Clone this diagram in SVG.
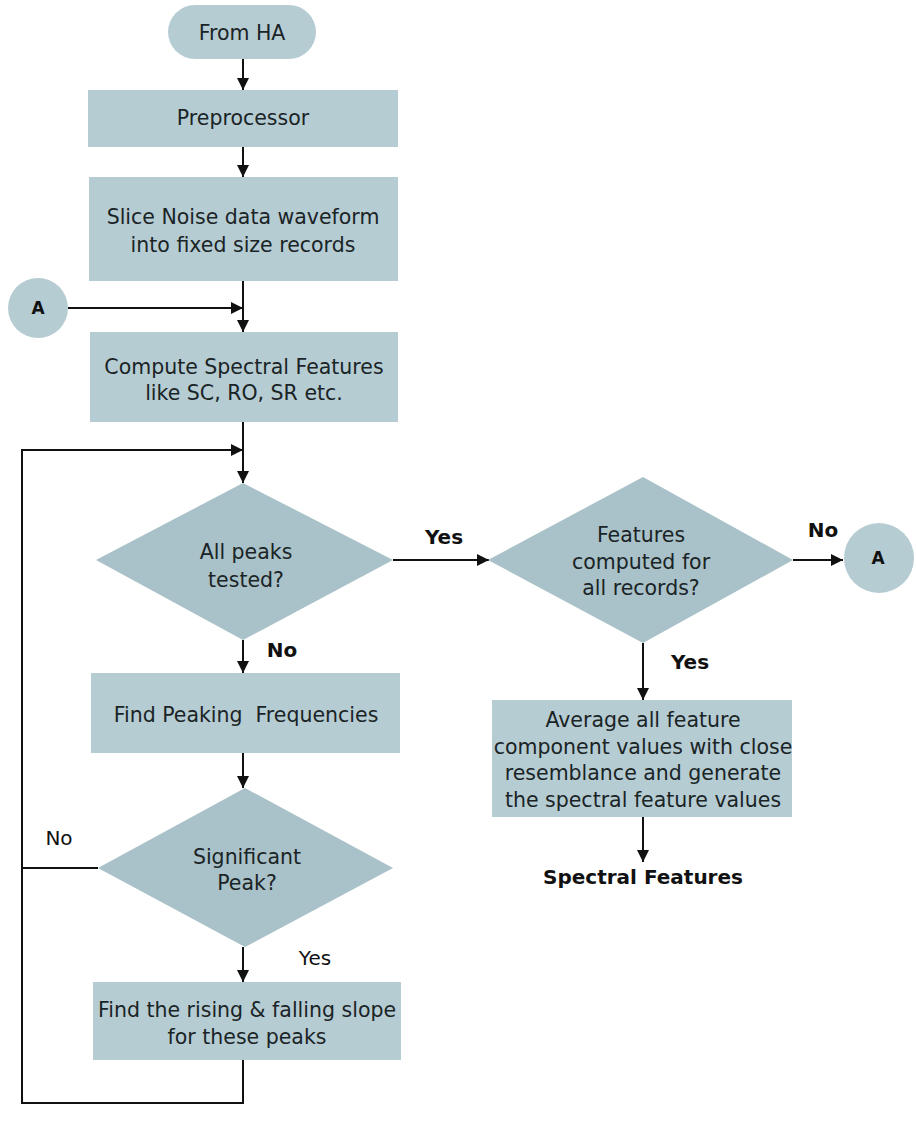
<svg xmlns="http://www.w3.org/2000/svg" width="916" height="1135" viewBox="0 0 916 1135">
  <style>
    .box { fill: #b6ccd3; }
    .dec { fill: #a9c1c8; }
    .t { font-family: "DejaVu Sans", Verdana, sans-serif; font-size: 20.5px; fill: #1a2426; text-anchor: middle; }
    .lb { font-family: "DejaVu Sans", Verdana, sans-serif; font-size: 20px; font-weight: bold; fill: #111; text-anchor: middle; }
    .lr { font-family: "DejaVu Sans", Verdana, sans-serif; font-size: 20px; fill: #111; text-anchor: middle; }
    .ln { fill: none; stroke: #111; stroke-width: 2; }
  </style>
  <defs>
    <marker id="arr" viewBox="0 0 12 12" refX="12" refY="6" markerWidth="12" markerHeight="12" markerUnits="userSpaceOnUse" orient="auto">
      <path d="M0,0 L12,6 L0,12 Z" fill="#111"/>
    </marker>
  </defs>
  <rect width="916" height="1135" fill="#ffffff"/>

  <g id="connectors">
    <line class="ln" x1="243" y1="59" x2="243" y2="90" marker-end="url(#arr)"/>
    <line class="ln" x1="243" y1="147" x2="243" y2="177" marker-end="url(#arr)"/>
    <line class="ln" x1="243" y1="281" x2="243" y2="332" marker-end="url(#arr)"/>
    <line class="ln" x1="68" y1="308" x2="243" y2="308" marker-end="url(#arr)"/>
    <line class="ln" x1="243" y1="422" x2="243" y2="483" marker-end="url(#arr)"/>
    <polyline class="ln" points="243,1060 243,1103 22,1103 22,450 243,450" marker-end="url(#arr)"/>
    <line class="ln" x1="98" y1="868" x2="22" y2="868"/>
    <line class="ln" x1="243" y1="640" x2="243" y2="673" marker-end="url(#arr)"/>
    <line class="ln" x1="243" y1="753" x2="243" y2="788" marker-end="url(#arr)"/>
    <line class="ln" x1="243" y1="947" x2="243" y2="982" marker-end="url(#arr)"/>
    <line class="ln" x1="393" y1="560" x2="489" y2="560" marker-end="url(#arr)"/>
    <line class="ln" x1="793" y1="560" x2="843" y2="560" marker-end="url(#arr)"/>
    <line class="ln" x1="643" y1="643" x2="643" y2="700" marker-end="url(#arr)"/>
    <line class="ln" x1="643" y1="817" x2="643" y2="862" marker-end="url(#arr)"/>
  </g>

  <g id="from-ha">
    <rect class="box" x="168" y="5" width="148" height="54" rx="27"/>
    <text class="t" x="242" y="40">From HA</text>
  </g>
  <g id="preprocessor">
    <rect class="box" x="88" y="90" width="310" height="57"/>
    <text class="t" x="243" y="125">Preprocessor</text>
  </g>
  <g id="slice">
    <rect class="box" x="89" y="177" width="309" height="104"/>
    <text class="t" x="243" y="224">Slice Noise data waveform</text>
    <text class="t" x="243" y="252">into fixed size records</text>
  </g>
  <g id="connector-a-in">
    <circle class="box" cx="38" cy="308" r="30"/>
    <text class="lb" x="38" y="314" style="font-size:17px">A</text>
  </g>
  <g id="compute">
    <rect class="box" x="90" y="332" width="308" height="90"/>
    <text class="t" x="244" y="374">Compute Spectral Features</text>
    <text class="t" x="244" y="400">like SC, RO, SR etc.</text>
  </g>
  <g id="all-peaks">
    <polygon class="dec" points="243,483 393,560 243,640 96,560"/>
    <text class="t" x="246" y="559">All peaks</text>
    <text class="t" x="246" y="587">tested?</text>
  </g>
  <g id="find-peaking">
    <rect class="box" x="91" y="673" width="309" height="80"/>
    <text class="t" x="246" y="722" style="white-space:pre">Find Peaking  Frequencies</text>
  </g>
  <g id="significant">
    <polygon class="dec" points="245,788 393,868 245,947 98,868"/>
    <text class="t" x="247" y="864">Significant</text>
    <text class="t" x="247" y="890">Peak?</text>
  </g>
  <g id="rising-falling">
    <rect class="box" x="93" y="982" width="308" height="78"/>
    <text class="t" x="247" y="1017">Find the rising &amp; falling slope</text>
    <text class="t" x="247" y="1044">for these peaks</text>
  </g>
  <g id="features-computed">
    <polygon class="dec" points="643,477 793,560 643,643 488,560"/>
    <text class="t" x="641" y="542">Features</text>
    <text class="t" x="641" y="569">computed for</text>
    <text class="t" x="641" y="595">all records?</text>
  </g>
  <g id="connector-a-out">
    <circle class="box" cx="879" cy="558" r="35"/>
    <text class="lb" x="878" y="564" style="font-size:17px">A</text>
  </g>
  <g id="average">
    <rect class="box" x="492" y="700" width="300" height="117"/>
    <text class="t" x="643" y="727">Average all feature</text>
    <text class="t" x="643" y="754">component values with close</text>
    <text class="t" x="643" y="780">resemblance and generate</text>
    <text class="t" x="643" y="807">the spectral feature values</text>
  </g>
  <g id="spectral-features">
    <text class="lb" x="643" y="884">Spectral Features</text>
  </g>

  <g id="labels">
    <text class="lb" x="444" y="544">Yes</text>
    <text class="lb" x="282" y="657">No</text>
    <text class="lr" x="59" y="845">No</text>
    <text class="lr" x="315" y="965">Yes</text>
    <text class="lb" x="823" y="537">No</text>
    <text class="lb" x="690" y="669">Yes</text>
  </g>
</svg>
